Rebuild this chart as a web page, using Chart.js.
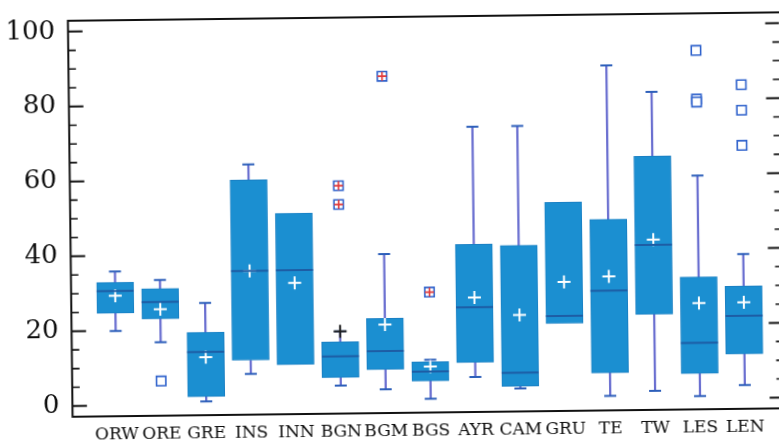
<!DOCTYPE html>
<html>
<head>
<meta charset="utf-8">
<script src="https://cdn.jsdelivr.net/npm/chart.js@4.4.1/dist/chart.umd.min.js"></script>
<style>
  html, body { margin: 0; padding: 0; background: #fff; overflow: hidden; width: 779px; height: 443px; }
  #wrap { position: absolute; left: 0; top: 0; width: 790px; height: 443px;
          transform-origin: 389px 221px; transform: rotate(-0.68deg); background: #fff; }
</style>
</head>
<body>
<div id="wrap"><canvas id="c"></canvas></div>
<script>
const categories = ['ORW','ORE','GRE','INS','INN','BGN','BGM','BGS','AYR','CAM','GRU','TE','TW','LES','LEN'];
const q1 = [24.7, 23.0, 2.1, 11.7, 10.4, 6.8, 8.8, 5.6, 10.4, 3.9, 20.5, 7.2, 22.7, 6.7, 11.8];
const q3 = [32.9, 31.1, 19.3, 59.8, 50.8, 16.3, 22.4, 10.7, 41.9, 41.5, 52.9, 48.2, 64.9, 32.5, 29.9];
const medians = [30.6, 27.5, 14.0, 35.5, 35.6, 12.4, 13.7, 8.1, 25.1, 7.5, 22.5, 29.1, 41.2, 14.9, 22.0];
const means = [29.3, 25.6, 12.6, 35.5, 32.2, 19.1, 20.8, 9.4, 27.7, 22.9, 31.6, 32.9, 42.6, 25.5, 25.6];
const whiskerLow = [19.9, 16.8, 0.8, 8.0, null, 4.6, 3.5, 0.8, 6.5, 3.3, null, 1.0, 2.2, 0.7, 3.5];
const whiskerHigh = [35.8, 33.4, 27.1, 64.0, null, 19.1, 39.6, 11.2, 73.3, 73.4, null, 89.3, 82.1, 59.6, 38.5];
const outliers = [[], [6.4], [], [], [], [], [], [], [], [], [], [], [], [93.0, 80.0, 79.2], [83.7, 76.9, 67.5]];
const extremeOutliers = [[], [], [], [], [], [58.0, 53.0], [87.1], [29.3], [], [], [], [], [], [], []];
const yTickValues = [0, 20, 40, 60, 80, 100];

const idx = categories.map((c, i) => i);
const upperWhiskers = idx.filter(i => whiskerHigh[i] != null).map(i => ({x: i, y: [q3[i], whiskerHigh[i]]}));
const lowerWhiskers = idx.filter(i => whiskerLow[i] != null).map(i => ({x: i, y: [whiskerLow[i], q1[i]]}));
const caps = [].concat(
  idx.filter(i => whiskerHigh[i] != null).map(i => ({x: i, y: whiskerHigh[i]})),
  idx.filter(i => whiskerLow[i] != null).map(i => ({x: i, y: whiskerLow[i]}))
);
const boxes = idx.map(i => ({x: i, y: [q1[i], q3[i]]}));
const meanPts = idx.map(i => ({x: i, y: means[i]}));
const medianPts = idx.map(i => ({x: i, y: medians[i]}));
const outPts = [];
idx.forEach(i => outliers[i].forEach(v => outPts.push({x: i, y: v})));
const extPts = [];
idx.forEach(i => extremeOutliers[i].forEach(v => extPts.push({x: i, y: v})));

const frame = {
  id: 'frame',
  afterDraw(chart) {
    const {ctx, chartArea: {left, right, top, bottom}, scales: {y}} = chart;
    ctx.save();
    ctx.strokeStyle = '#111111';
    ctx.lineWidth = 2;
    ctx.beginPath();
    ctx.moveTo(right + 4, top); ctx.lineTo(left, top); ctx.lineTo(left, bottom); ctx.lineTo(right + 4, bottom);
    ctx.stroke();
    for (let v = 0; v <= 100; v += 5) {
      const py = y.getPixelForValue(v);
      const major = v % 20 === 0;
      ctx.lineWidth = major ? 2 : 1.6;
      ctx.beginPath();
      ctx.moveTo(left, py); ctx.lineTo(left + (major ? 14.5 : 7.5), py);
      ctx.moveTo(right, py); ctx.lineTo(right - (major ? 14 : 7), py);
      ctx.stroke();
    }
    ctx.restore();
  }
};

new Chart(document.getElementById('c'), {
  type: 'bar',
  data: {
    datasets: [
      { type: 'bar', data: upperWhiskers, backgroundColor: '#6a6fd0', barThickness: 1.6, grouped: false, order: 7 },
      { type: 'bar', data: lowerWhiskers, backgroundColor: '#6a6fd0', barThickness: 1.6, grouped: false, order: 7 },
      { type: 'scatter', data: caps, pointStyle: 'line', pointRadius: 6, borderWidth: 2, borderColor: '#2d5fba', order: 6 },
      { type: 'bar', data: boxes, backgroundColor: '#1b8fd1', borderColor: '#1a80c4', borderWidth: 1, borderSkipped: false, barThickness: 37, grouped: false, order: 5 },
      { type: 'scatter', data: meanPts, pointStyle: 'cross', pointRadius: 6.5, borderWidth: 2,
        borderColor: ctx => { const i = ctx.raw ? ctx.raw.x : 0; return (means[i] > q3[i] || means[i] < q1[i]) ? '#1e1e1e' : '#ffffff'; }, order: 4 },
      { type: 'scatter', data: medianPts, pointStyle: 'line', pointRadius: 18.5, borderWidth: 2, borderColor: '#1d5da5', order: 3 },
      { type: 'scatter', data: outPts.concat(extPts), pointStyle: 'rect', pointRadius: 6.6, borderWidth: 1.6, borderColor: '#2f62cc', backgroundColor: '#ffffff', order: 2 },
      { type: 'scatter', data: extPts, pointStyle: 'cross', pointRadius: 4.5, borderWidth: 1.6, borderColor: '#e23a3a', order: 1 }
    ]
  },
  options: {
    responsive: true,
    maintainAspectRatio: false,
    devicePixelRatio: 1,
    animation: false,
    events: [],
    layout: { autoPadding: false, padding: { top: 17, right: 8.5, left: 0, bottom: 0 } },
    plugins: { legend: { display: false }, tooltip: { enabled: false } },
    scales: {
      x: {
        type: 'linear', min: -0.982, max: 14.861, offset: false,
        grid: { display: false, drawTicks: false }, border: { display: false },
        afterBuildTicks: s => { s.ticks = idx.map(i => ({value: i})); },
        afterFit: s => { s.height = 30; s.paddingLeft = 0; s.paddingRight = 0; s.paddingTop = 0; s.paddingBottom = 0; },
        ticks: { padding: 8, color: '#0d0d0d', autoSkip: false, maxRotation: 0,
                 font: { family: 'DejaVu Serif', size: 17 },
                 callback: v => categories[Math.round(v)] }
      },
      y: {
        type: 'linear', min: -2.86, max: 102.9,
        grid: { display: false, drawTicks: false }, border: { display: false },
        afterBuildTicks: s => { s.ticks = yTickValues.map(v => ({value: v})); },
        afterFit: s => { s.width = 70.3; s.paddingLeft = 0; s.paddingRight = 0; s.paddingTop = 0; s.paddingBottom = 0; },
        ticks: { padding: 13, color: '#0d0d0d', font: { family: 'DejaVu Serif', size: 26 },
                 callback: v => String(v) }
      }
    }
  },
  plugins: [frame]
});
</script>
</body>
</html>
